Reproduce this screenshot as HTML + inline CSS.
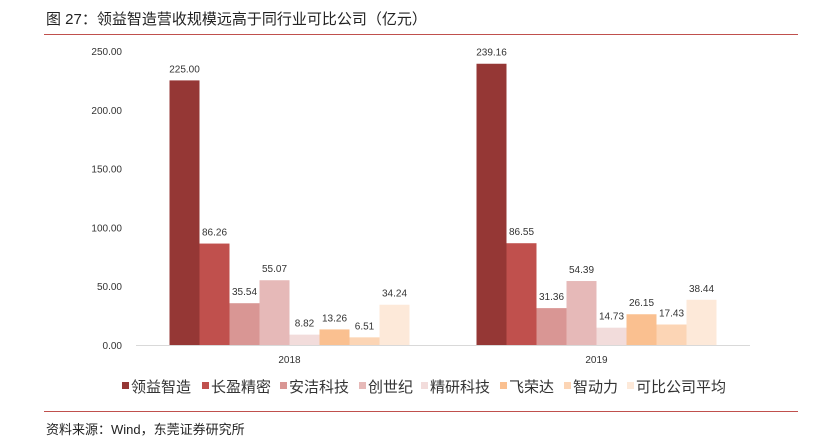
<!DOCTYPE html>
<html><head><meta charset="utf-8"><style>
body{margin:0;background:#fff;width:832px;height:436px;overflow:hidden;font-family:"Liberation Sans","Noto Sans CJK SC",sans-serif;}
.t{position:absolute;white-space:nowrap}
</style></head><body>
<div class="t" style="left:46px;top:8px;font-size:15px;color:#222;font-family:'Liberation Sans','Noto Sans CJK SC',sans-serif;">图 27：领益智造营收规模远高于同行业可比公司（亿元）</div>
<div style="position:absolute;left:44px;top:34px;width:754px;height:1px;background:#c0504d"></div>
<svg id="c" width="832" height="436" style="position:absolute;left:0;top:0"></svg>
<div style="position:absolute;left:44px;top:411px;width:754px;height:1px;background:#c0504d"></div>
<div class="t" style="left:46px;top:419px;font-size:13px;color:#222;">资料来源：Wind，东莞证券研究所</div>
<script>
const categories=["2018","2019"];
const seriesNames=["领益智造","长盈精密","安洁科技","创世纪","精研科技","飞荣达","智动力","可比公司平均"];
const s2018=[225.00,86.26,35.54,55.07,8.82,13.26,6.51,34.24];
const s2019=[239.16,86.55,31.36,54.39,14.73,26.15,17.43,38.44];
const yTicks=[0,50,100,150,200,250];
const colors=["#953735","#c0504d","#d99694","#e6b9b8","#f2dcdb","#fac090","#fcd5b5","#fde9d9"];
const NS="http://www.w3.org/2000/svg";
const svg=document.getElementById('c');
const x0=136,x1=750,yb=345,yt=51,ymax=250;
const y=v=>yb-(v/ymax)*(yb-yt);
const bw=30;
function mk(tag,attrs,txt){const e=document.createElementNS(NS,tag);for(const k in attrs)e.setAttribute(k,attrs[k]);if(txt!==undefined)e.textContent=txt;svg.appendChild(e);return e;}
yTicks.forEach(t=>{
 const e=mk('text',{x:122,y:y(t)+4,'text-anchor':'end','font-size':10,fill:'#333'},t.toFixed(2));
 
 
});
const ax=mk('line',{x1:x0,x2:x1,y1:yb+0.5,y2:yb+0.5,stroke:'#d9d9d9'});


const data=[s2018,s2019];
const cw=(x1-x0)/categories.length;
categories.forEach((c,ci)=>{
 const cx=x0+cw*(ci+0.5);
 const start=cx-bw*seriesNames.length/2;
 data[ci].forEach((v,si)=>{
  const bx=start+si*bw;
  const r=mk('rect',{x:bx,y:y(v),width:bw,height:yb-y(v),fill:colors[si]});
  
  
  const l=mk('text',{x:bx+bw/2,y:y(v)-8,'text-anchor':'middle','font-size':10,fill:'#333'},v.toFixed(2));
  
  
 });
 const cl=mk('text',{x:cx,y:363,'text-anchor':'middle','font-size':10,fill:'#333'},c);
 
 
});
const lx=[122,202,280,359,421,500,564,627];
seriesNames.forEach((n,i)=>{
 const sq=mk('rect',{x:lx[i],y:382,width:7,height:7,fill:colors[i]});
 
 
 const t=mk('text',{x:lx[i]+9,y:392,'font-size':15,fill:'#333'},n);
 
 
});
</script>
</body></html>
